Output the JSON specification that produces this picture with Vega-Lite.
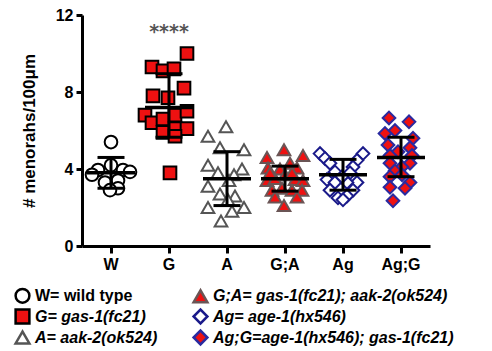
{
  "$schema": "https://vega.github.io/schema/vega-lite/v6.json",
  "width": 348,
  "height": 231,
  "autosize": {"type": "none"},
  "padding": {"left": 82, "top": 15, "right": 62, "bottom": 105},
  "background": "white",
  "config": {
    "view": {"stroke": null},
    "font": "Liberation Sans",
    "axis": {
      "domainColor": "black", "tickColor": "black", "labelColor": "black", "titleColor": "black",
      "domainWidth": 3, "tickWidth": 3, "grid": false,
      "labelFont": "Liberation Sans", "labelFontWeight": "bold", "labelFontSize": 16,
      "titleFont": "Liberation Sans", "titleFontWeight": "bold"
    }
  },
  "datasets": {
    "pts": [
      {"g": "W", "v": 5.4, "j": 0}, {"g": "W", "v": 4.2, "j": 0}, {"g": "W", "v": 3.95, "j": -13}, {"g": "W", "v": 3.95, "j": 12},
      {"g": "W", "v": 3.85, "j": 19}, {"g": "W", "v": 3.7, "j": -19}, {"g": "W", "v": 3.4, "j": 7}, {"g": "W", "v": 3.3, "j": -6},
      {"g": "W", "v": 3.0, "j": 7}, {"g": "W", "v": 2.9, "j": -1},
      {"g": "G", "v": 10.0, "j": 18}, {"g": "G", "v": 9.3, "j": -17}, {"g": "G", "v": 9.1, "j": -6}, {"g": "G", "v": 9.2, "j": 5},
      {"g": "G", "v": 8.2, "j": 15}, {"g": "G", "v": 7.8, "j": -16}, {"g": "G", "v": 7.7, "j": -1}, {"g": "G", "v": 6.8, "j": -24},
      {"g": "G", "v": 6.4, "j": -17}, {"g": "G", "v": 6.6, "j": -6}, {"g": "G", "v": 6.8, "j": 6}, {"g": "G", "v": 7.0, "j": 18},
      {"g": "G", "v": 5.9, "j": -6}, {"g": "G", "v": 6.1, "j": 6}, {"g": "G", "v": 6.1, "j": 18}, {"g": "G", "v": 5.7, "j": 6},
      {"g": "G", "v": 3.8, "j": 1},
      {"g": "A", "v": 6.2, "j": -1}, {"g": "A", "v": 5.7, "j": -19}, {"g": "A", "v": 5.1, "j": -7}, {"g": "A", "v": 5.0, "j": 17},
      {"g": "A", "v": 4.2, "j": -19}, {"g": "A", "v": 3.8, "j": -9}, {"g": "A", "v": 4.0, "j": 15}, {"g": "A", "v": 3.7, "j": 7},
      {"g": "A", "v": 3.1, "j": -19}, {"g": "A", "v": 2.7, "j": -7}, {"g": "A", "v": 2.6, "j": 8}, {"g": "A", "v": 2.0, "j": -19},
      {"g": "A", "v": 2.0, "j": 17}, {"g": "A", "v": 1.8, "j": 5}, {"g": "A", "v": 1.3, "j": -6}, {"g": "A", "v": 2.4, "j": 1},
      {"g": "A", "v": 3.4, "j": 2},
      {"g": "G;A", "v": 5.0, "j": -1}, {"g": "G;A", "v": 4.6, "j": -18}, {"g": "G;A", "v": 4.7, "j": 18}, {"g": "G;A", "v": 4.3, "j": 5},
      {"g": "G;A", "v": 4.05, "j": -17}, {"g": "G;A", "v": 4.0, "j": -5}, {"g": "G;A", "v": 4.05, "j": 12}, {"g": "G;A", "v": 3.4, "j": -18},
      {"g": "G;A", "v": 3.5, "j": -10}, {"g": "G;A", "v": 3.45, "j": 10}, {"g": "G;A", "v": 3.4, "j": 18}, {"g": "G;A", "v": 2.9, "j": -13},
      {"g": "G;A", "v": 3.0, "j": -3}, {"g": "G;A", "v": 2.9, "j": 7}, {"g": "G;A", "v": 2.9, "j": 17}, {"g": "G;A", "v": 2.55, "j": -10},
      {"g": "G;A", "v": 2.55, "j": 12}, {"g": "G;A", "v": 2.1, "j": -1}, {"g": "G;A", "v": 3.7, "j": 0}, {"g": "G;A", "v": 3.8, "j": 7},
      {"g": "G;A", "v": 3.8, "j": -15},
      {"g": "Ag", "v": 4.8, "j": -23}, {"g": "Ag", "v": 4.55, "j": -18}, {"g": "Ag", "v": 4.8, "j": 20}, {"g": "Ag", "v": 4.45, "j": 14},
      {"g": "Ag", "v": 4.3, "j": -13}, {"g": "Ag", "v": 4.1, "j": 10}, {"g": "Ag", "v": 3.85, "j": -8}, {"g": "Ag", "v": 3.8, "j": 7},
      {"g": "Ag", "v": 3.45, "j": -16}, {"g": "Ag", "v": 3.3, "j": 14}, {"g": "Ag", "v": 3.3, "j": -8}, {"g": "Ag", "v": 3.3, "j": 4},
      {"g": "Ag", "v": 2.9, "j": -13}, {"g": "Ag", "v": 2.9, "j": 10}, {"g": "Ag", "v": 2.5, "j": -5}, {"g": "Ag", "v": 2.6, "j": 4},
      {"g": "Ag", "v": 3.6, "j": -1}, {"g": "Ag", "v": 2.4, "j": 0},
      {"g": "Ag;G", "v": 6.65, "j": -12}, {"g": "Ag;G", "v": 6.45, "j": 8}, {"g": "Ag;G", "v": 6.0, "j": -6}, {"g": "Ag;G", "v": 5.85, "j": -16},
      {"g": "Ag;G", "v": 5.6, "j": 12}, {"g": "Ag;G", "v": 5.25, "j": -13}, {"g": "Ag;G", "v": 5.1, "j": 9}, {"g": "Ag;G", "v": 4.9, "j": -3},
      {"g": "Ag;G", "v": 4.7, "j": -11}, {"g": "Ag;G", "v": 4.7, "j": 11}, {"g": "Ag;G", "v": 4.3, "j": -11}, {"g": "Ag;G", "v": 4.3, "j": 9},
      {"g": "Ag;G", "v": 4.1, "j": 1}, {"g": "Ag;G", "v": 3.9, "j": -6}, {"g": "Ag;G", "v": 3.7, "j": 1}, {"g": "Ag;G", "v": 3.6, "j": -11},
      {"g": "Ag;G", "v": 3.3, "j": 9}, {"g": "Ag;G", "v": 3.05, "j": -11}, {"g": "Ag;G", "v": 3.0, "j": 4}, {"g": "Ag;G", "v": 2.35, "j": -8}
    ],
    "stats": [
      {"g": "W", "mean": 3.8, "lo": 3.0, "hi": 4.6},
      {"g": "G", "mean": 7.2, "lo": 5.65, "hi": 8.95},
      {"g": "A", "mean": 3.5, "lo": 2.1, "hi": 4.9},
      {"g": "G;A", "mean": 3.5, "lo": 2.85, "hi": 4.15},
      {"g": "Ag", "mean": 3.7, "lo": 2.9, "hi": 4.5},
      {"g": "Ag;G", "mean": 4.6, "lo": 3.6, "hi": 5.65}
    ]
  },
  "encoding": {
    "x": {
      "field": "g", "type": "nominal",
      "scale": {"type": "band", "domain": ["W", "G", "A", "G;A", "Ag", "Ag;G"], "paddingInner": 0, "paddingOuter": 0},
      "axis": {"title": null, "labelAngle": 0, "tickSize": 7, "labelPadding": 3}
    }
  },
  "layer": [
    {
      "data": {"name": "pts"},
      "mark": {"type": "point", "opacity": 1, "size": 160, "strokeWidth": 2},
      "encoding": {
        "xOffset": {"field": "j", "type": "quantitative", "scale": {"domain": [-29, 29]}},
        "y": {
          "field": "v", "type": "quantitative",
          "scale": {"domain": [0, 12], "nice": false},
          "axis": {"values": [0, 4, 8, 12], "tickSize": 6, "labelPadding": 3, "title": "# menorahs/100μm", "titleFontSize": 17, "titlePadding": 17}
        },
        "shape": {
          "field": "g", "type": "nominal",
          "scale": {"domain": ["W", "G", "A", "G;A", "Ag", "Ag;G"], "range": ["circle", "square", "triangle-up", "triangle-up", "diamond", "diamond"]},
          "legend": {
            "orient": "none", "legendX": -68, "legendY": 272, "columns": 2, "title": null,
            "padding": 0, "rowPadding": -5, "columnPadding": 30,
            "symbolSize": 190, "symbolStrokeWidth": 2.5, "symbolOpacity": 1,
            "labelFont": "Liberation Sans", "labelFontSize": 16, "labelFontWeight": "bold", "labelColor": "black",
            "labelFontStyle": {"expr": "datum.value == 'W' ? 'normal' : 'italic'"},
            "labelLimit": 400, "labelOffset": 4,
            "labelExpr": "datum.value == 'W' ? 'W= wild type' : datum.value == 'G' ? 'G= gas-1(fc21)' : datum.value == 'A' ? 'A= aak-2(ok524)' : datum.value == 'G;A' ? 'G;A= gas-1(fc21); aak-2(ok524)' : datum.value == 'Ag' ? 'Ag= age-1(hx546)' : 'Ag;G=age-1(hx546); gas-1(fc21)'"
          }
        },
        "fill": {
          "field": "g", "type": "nominal",
          "scale": {"domain": ["W", "G", "A", "G;A", "Ag", "Ag;G"], "range": ["white", "#ee1111", "white", "#ee1111", "white", "#ee1111"]}
        },
        "stroke": {
          "field": "g", "type": "nominal",
          "scale": {"domain": ["W", "G", "A", "G;A", "Ag", "Ag;G"], "range": ["black", "black", "#555555", "#6a5555", "#1a1a8a", "#2a2aa0"]}
        }
      }
    },
    {
      "data": {"name": "stats"},
      "mark": {"type": "rule", "color": "black", "strokeWidth": 3},
      "encoding": {"y": {"field": "lo", "type": "quantitative"}, "y2": {"field": "hi"}}
    },
    {
      "data": {"name": "stats"},
      "mark": {"type": "tick", "color": "black", "size": 48, "thickness": 3.5, "opacity": 1},
      "encoding": {"y": {"field": "mean", "type": "quantitative"}}
    },
    {
      "data": {"name": "stats"},
      "mark": {"type": "tick", "color": "black", "size": 27, "thickness": 3, "opacity": 1},
      "encoding": {"y": {"field": "lo", "type": "quantitative"}}
    },
    {
      "data": {"name": "stats"},
      "mark": {"type": "tick", "color": "black", "size": 27, "thickness": 3, "opacity": 1},
      "encoding": {"y": {"field": "hi", "type": "quantitative"}}
    },
    {
      "data": {"values": [{"g": "G", "label": "****"}]},
      "mark": {"type": "text", "font": "DejaVu Sans", "fontWeight": "bold", "fontSize": 19, "color": "#555555", "baseline": "middle"},
      "encoding": {"text": {"field": "label"}, "y": {"datum": 11.1}}
    }
  ]
}
